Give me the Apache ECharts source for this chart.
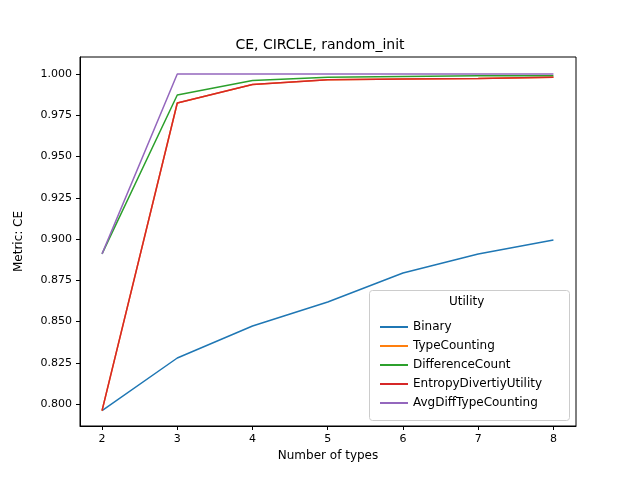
<!DOCTYPE html>
<html><head><meta charset="utf-8">
<script src="https://cdn.jsdelivr.net/npm/echarts@6/dist/echarts.min.js"></script>
<style>body{margin:0}#main{width:640px;height:480px}</style>
</head><body><div id="main"></div>
<script>
var types = [2, 3, 4, 5, 6, 7, 8];
var binary = [0.796, 0.8279, 0.8473, 0.8618, 0.8794, 0.8909, 0.8994];
var typeCounting = [0.796, 0.9824, 0.9936, 0.9965, 0.997, 0.9972, 0.998];
var differenceCount = [0.891, 0.9873, 0.996, 0.998, 0.9985, 0.999, 0.999];
var entropyUtility = [0.796, 0.9824, 0.9936, 0.9965, 0.997, 0.9972, 0.998];
var avgDiff = [0.891, 1.0, 1.0, 1.0, 1.0, 1.0, 1.0];
var yTicks = [0.800, 0.825, 0.850, 0.875, 0.900, 0.925, 0.950, 0.975, 1.000];

var names = ['Binary', 'TypeCounting', 'DifferenceCount', 'EntropyDivertiyUtility', 'AvgDiffTypeCounting'];
var colors = ['#1f77b4', '#ff7f0e', '#2ca02c', '#d62728', '#9467bd'];
var values = [binary, typeCounting, differenceCount, entropyUtility, avgDiff];

var chart = echarts.init(document.getElementById('main'));
var font = 'DejaVu Sans';
option = {
    animation: false,
    textStyle: {fontFamily: font},
    title: {
        text: 'CE, CIRCLE, random_init', left: 'center', top: 33,
        textStyle: {fontFamily: font, fontSize: 14, fontWeight: 'normal', color: '#000'}
    },
    grid: {left: 80, right: 64, top: 57, bottom: 54, show: true, borderColor: '#000', borderWidth: 1},
    xAxis: {
        type: 'value', min: 1.707, max: 8.3,
        name: 'Number of types', nameLocation: 'middle', nameGap: 24,
        nameTextStyle: {fontSize: 12, color: '#000'},
        axisLine: {onZero: false, lineStyle: {color: '#000'}},
        axisTick: {customValues: types, length: 4, lineStyle: {color: '#000'}},
        axisLabel: {customValues: types, color: '#000', fontSize: 11},
        splitLine: {show: false}
    },
    yAxis: {
        type: 'value', min: 0.7867, max: 1.0103,
        name: 'Metric: CE', nameLocation: 'middle', nameGap: 55,
        nameTextStyle: {fontSize: 12, color: '#000'},
        axisLine: {show: true, lineStyle: {color: '#000'}},
        axisTick: {show: true, customValues: yTicks, length: 4, lineStyle: {color: '#000'}},
        axisLabel: {customValues: yTicks, color: '#000', fontSize: 11,
            formatter: function (v) { return v.toFixed(3); }},
        splitLine: {show: false}
    },
    legend: {
        orient: 'vertical', left: 375, top: 316, itemGap: 7,
        itemWidth: 28, itemHeight: 2, icon: 'rect',
        textStyle: {fontSize: 12, color: '#000'},
        data: names
    },
    graphic: [
        {type: 'rect', left: 369, top: 290, shape: {width: 200, height: 130, r: 3},
         style: {fill: 'rgba(255,255,255,0.8)', stroke: '#ccc'}, z: 0},
        {type: 'text', left: 449, top: 296, style: {text: 'Utility', fontSize: 12, fontFamily: font, fill: '#000'}}
    ],
    series: names.map(function (n, i) {
        return {
            name: n, type: 'line', showSymbol: false, color: colors[i],
            lineStyle: {width: 1.5},
            data: types.map(function (t, j) { return [t, values[i][j]]; })
        };
    })
};
chart.setOption(option);
</script>
</body></html>
